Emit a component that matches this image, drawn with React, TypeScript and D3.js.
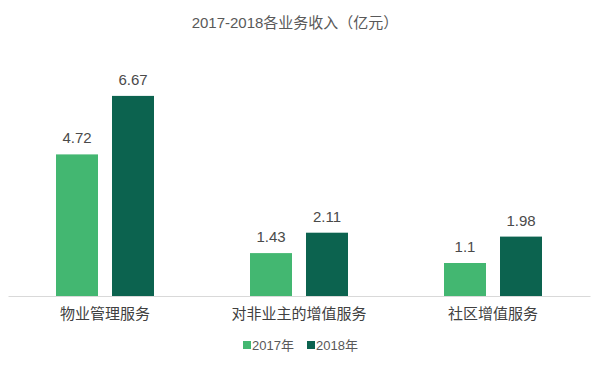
import React, { useRef, useEffect } from 'react';
import * as d3 from 'd3';

const categories = ['物业管理服务', '对非业主的增值服务', '社区增值服务'];
const seriesNames = ['2017年', '2018年'];
const values2017 = [4.72, 1.43, 1.1];
const values2018 = [6.67, 2.11, 1.98];
const valueLabels2017 = ['4.72', '1.43', '1.1'];
const valueLabels2018 = ['6.67', '2.11', '1.98'];
const colors = ['#43b771', '#0c634f'];
const title = '2017-2018各业务收入（亿元）';

const FONT = '"Liberation Sans", Arial, "Noto Sans CJK SC", sans-serif';

const App = () => {
    const ref = useRef<SVGSVGElement>(null);

    useEffect(() => {
        const svg = d3.select(ref.current);
        svg.selectAll('*').remove();

        const W = 612, H = 365;
        svg.append('rect').attr('width', W).attr('height', H).attr('fill', '#ffffff');

        // band for each category, inner band for the two years
        const x = d3.scaleBand().domain(categories).range([8, 590]).paddingInner(0).paddingOuter(0);
        const xInner = d3.scaleBand().domain(seriesNames).range([48, 146]).paddingInner(0.25).paddingOuter(0);
        const y = d3.scaleLinear().domain([0, 8]).range([296, 56]);

        const series = [
            { name: seriesNames[0], values: values2017, labels: valueLabels2017 },
            { name: seriesNames[1], values: values2018, labels: valueLabels2018 },
        ];

        // title
        svg.append('text')
            .attr('x', W / 2 - 11)
            .attr('y', 28)
            .attr('text-anchor', 'middle')
            .attr('font-family', FONT)
            .attr('font-size', 15)
            .attr('fill', '#595959')
            .text(title);

        const g = svg.append('g');

        series.forEach((s, si) => {
            g.selectAll(`.bar${si}`)
                .data(categories)
                .enter()
                .append('rect')
                .attr('x', d => (x(d) as number) + (xInner(s.name) as number))
                .attr('y', (d, i) => y(s.values[i]))
                .attr('width', xInner.bandwidth())
                .attr('height', (d, i) => y(0) - y(s.values[i]))
                .attr('fill', colors[si]);

            g.selectAll(`.lbl${si}`)
                .data(categories)
                .enter()
                .append('text')
                .attr('x', d => (x(d) as number) + (xInner(s.name) as number) + xInner.bandwidth() / 2)
                .attr('y', (d, i) => y(s.values[i]) - 11)
                .attr('text-anchor', 'middle')
                .attr('font-family', FONT)
                .attr('font-size', 15)
                .attr('fill', '#4a4a4a')
                .text((d, i) => s.labels[i]);
        });

        // x axis
        const axis = g.append('g')
            .attr('transform', `translate(0,${y(0)})`)
            .call(d3.axisBottom(x).tickSize(0).tickPadding(12));
        axis.select('.domain').attr('stroke', '#d9d9d9').attr('stroke-width', 1);
        axis.selectAll('text')
            .attr('font-family', FONT)
            .attr('font-size', 15)
            .attr('fill', '#404040');

        // legend
        const legend = svg.append('g').attr('transform', 'translate(243,350)');
        let lx = 0;
        seriesNames.forEach((name, i) => {
            legend.append('rect')
                .attr('x', lx)
                .attr('y', -9)
                .attr('width', 8)
                .attr('height', 8)
                .attr('fill', colors[i]);
            legend.append('text')
                .attr('x', lx + 9)
                .attr('y', 0)
                .attr('font-family', FONT)
                .attr('font-size', 13)
                .attr('fill', '#595959')
                .text(name);
            lx += 64;
        });
    }, []);

    return <svg ref={ref} width={612} height={365} style={{ position: 'absolute', left: 0, top: 0 }}></svg>;
};

export default App;
